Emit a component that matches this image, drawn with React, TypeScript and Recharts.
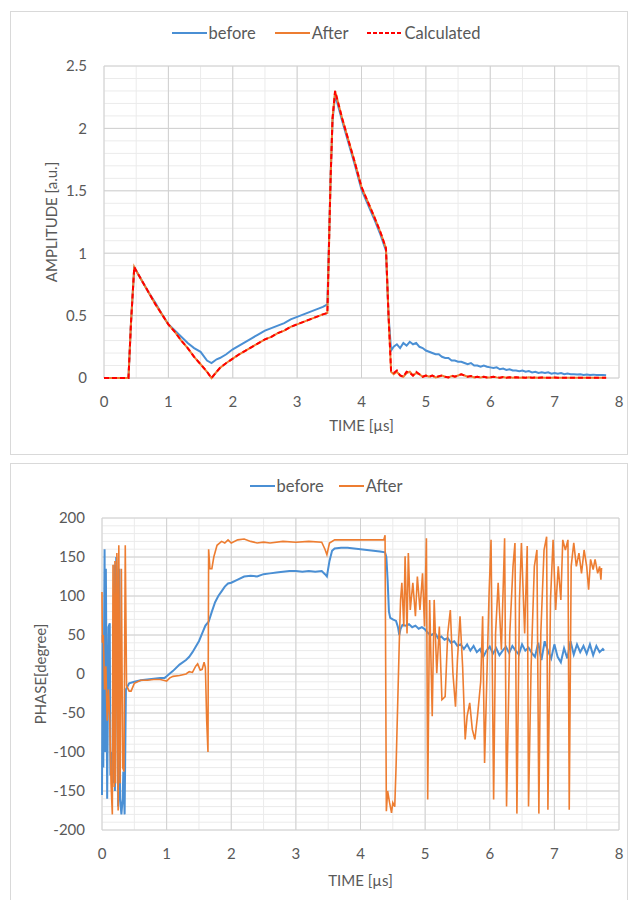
import React from "react";
import {
  LineChart,
  Line,
  XAxis,
  YAxis,
  CartesianGrid,
  Label,
} from "recharts";

const FONT = "Lato, 'Noto Sans', sans-serif";
const TEXT = "#595959";
const BLUE = "#4a8fd4";
const ORANGE = "#ed7d31";
const RED = "#ff0000";

// ---- amplitude chart ----
const ampTime = [
  0, 0.38, 0.42, 0.47, 0.5, 0.6, 0.7, 0.8, 0.9, 1.0, 1.1, 1.2, 1.3, 1.4, 1.5, 1.6, 1.67,
  1.75, 1.8, 1.9, 2.0, 2.1, 2.2, 2.3, 2.4, 2.5, 2.6, 2.7, 2.8, 2.9, 3.0, 3.1, 3.2, 3.3,
  3.4, 3.47, 3.52, 3.55, 3.59, 3.7, 3.8, 3.9, 4.0, 4.1, 4.2, 4.3, 4.38, 4.42, 4.46, 4.5,
  4.55, 4.6, 4.65, 4.7, 4.75, 4.8, 4.85, 4.9, 4.95,
  5.0, 5.05, 5.1, 5.15, 5.2, 5.25, 5.3, 5.35, 5.4, 5.45, 5.5, 5.55, 5.6, 5.65, 5.7, 5.75, 5.8, 5.85, 5.9, 5.95,
  6.0, 6.05, 6.1, 6.15, 6.2, 6.25, 6.3, 6.35, 6.4, 6.45, 6.5, 6.55, 6.6, 6.65, 6.7, 6.75, 6.8, 6.85, 6.9, 6.95,
  7.0, 7.05, 7.1, 7.15, 7.2, 7.25, 7.3, 7.35, 7.4, 7.45, 7.5, 7.55, 7.6, 7.65, 7.7, 7.75, 7.8,
];

const ampBefore = [
  0, 0, 0.45, 0.88, 0.86, 0.77, 0.68, 0.6, 0.51, 0.43, 0.38, 0.33, 0.28, 0.24, 0.21, 0.14, 0.12,
  0.15, 0.16, 0.19, 0.23, 0.26, 0.29, 0.32, 0.35, 0.38, 0.4, 0.42, 0.44, 0.47, 0.49, 0.51, 0.53, 0.55,
  0.57, 0.59, 1.6, 2.06, 2.27, 2.06, 1.88, 1.7, 1.51, 1.39, 1.27, 1.14, 1.02, 0.5, 0.22, 0.25,
  0.27, 0.24, 0.28, 0.26, 0.29, 0.27, 0.28, 0.25, 0.24,
  0.22, 0.21, 0.2, 0.19, 0.19, 0.17, 0.16, 0.16, 0.14, 0.14, 0.13, 0.13, 0.12, 0.11, 0.12, 0.1, 0.1, 0.09, 0.1, 0.09,
  0.085, 0.08, 0.085, 0.07, 0.075, 0.065, 0.07, 0.06, 0.06, 0.055, 0.06, 0.05, 0.055, 0.045, 0.05, 0.04, 0.045, 0.04, 0.045, 0.035,
  0.04, 0.035, 0.04, 0.03, 0.035, 0.03, 0.03, 0.028, 0.03, 0.025, 0.028, 0.025, 0.027, 0.024, 0.025, 0.024, 0.022,
];

const ampAfter = [
  0, 0, 0.45, 0.89, 0.86, 0.77, 0.68, 0.59, 0.51, 0.43, 0.37, 0.3, 0.24, 0.17, 0.11, 0.05, 0.0,
  0.05, 0.08, 0.12, 0.155, 0.19, 0.22, 0.25, 0.28, 0.31, 0.33, 0.36, 0.38, 0.41, 0.43, 0.45, 0.47, 0.49,
  0.51, 0.52, 1.6, 2.08, 2.3, 2.08, 1.9, 1.72, 1.53, 1.41, 1.29, 1.16, 1.04, 0.5, 0.05, 0.03,
  0.05, 0.02, 0.01, 0.04, 0.05, 0.02, 0.04, 0.03, 0.01,
  0.02, 0.01, 0.02, 0.005, 0.01, 0.02, 0.01, 0.005, 0.015, 0.01, 0.02, 0.03, 0.02, 0.01, 0.015, 0.005, 0.01, 0.005, 0.01, 0.005,
  0.005, 0.01, 0.005, 0.003, 0.008, 0.003, 0.005, 0.002, 0.006, 0.003, 0.004, 0.002, 0.005, 0.002, 0.004, 0.002, 0.004, 0.002, 0.003, 0.002,
  0.004, 0.002, 0.003, 0.002, 0.003, 0.002, 0.003, 0.002, 0.003, 0.002, 0.003, 0.002, 0.003, 0.002, 0.003, 0.002, 0.002,
];

const ampCalc = [
  0, 0, 0.45, 0.89, 0.86, 0.77, 0.68, 0.59, 0.51, 0.43, 0.37, 0.3, 0.24, 0.17, 0.11, 0.05, 0.0,
  0.05, 0.08, 0.12, 0.155, 0.19, 0.22, 0.25, 0.28, 0.31, 0.33, 0.36, 0.38, 0.41, 0.43, 0.45, 0.47, 0.49,
  0.51, 0.52, 1.6, 2.08, 2.3, 2.08, 1.9, 1.72, 1.53, 1.41, 1.29, 1.16, 1.04, 0.5, 0.05, 0.04,
  0.06, 0.02, 0.01, 0.05, 0.04, 0.02, 0.05, 0.03, 0.01,
  0.02, 0.01, 0.02, 0.005, 0.015, 0.02, 0.01, 0.005, 0.02, 0.01, 0.02, 0.03, 0.02, 0.01, 0.015, 0.005, 0.01, 0.005, 0.01, 0.005,
  0.005, 0.01, 0.005, 0.003, 0.008, 0.003, 0.005, 0.002, 0.006, 0.003, 0.004, 0.002, 0.005, 0.002, 0.004, 0.002, 0.004, 0.002, 0.003, 0.002,
  0.004, 0.002, 0.003, 0.002, 0.003, 0.002, 0.003, 0.002, 0.003, 0.002, 0.003, 0.002, 0.003, 0.002, 0.003, 0.002, 0.002,
];

const ampXTicks = [0, 1, 2, 3, 4, 5, 6, 7, 8];
const ampXMinor = [0, 0.5, 1, 1.5, 2, 2.5, 3, 3.5, 4, 4.5, 5, 5.5, 6, 6.5, 7, 7.5, 8];
const ampYTicks = [0, 0.5, 1, 1.5, 2, 2.5];
const ampYMinor = [
  0, 0.1, 0.2, 0.3, 0.4, 0.5, 0.6, 0.7, 0.8, 0.9, 1, 1.1, 1.2, 1.3, 1.4, 1.5, 1.6, 1.7,
  1.8, 1.9, 2, 2.1, 2.2, 2.3, 2.4, 2.5,
];

// ---- phase chart ----
const phaseBeforeTime = [
  0, 0.01, 0.02, 0.04, 0.05, 0.06, 0.08, 0.1, 0.12, 0.13, 0.15, 0.17, 0.19, 0.2, 0.22, 0.23,
  0.25, 0.27, 0.28, 0.3, 0.32, 0.33, 0.35, 0.37, 0.42, 0.5, 0.6, 0.7, 0.8, 0.9, 0.97, 1.0,
  1.1, 1.2, 1.3, 1.35, 1.4, 1.45, 1.5, 1.55, 1.6, 1.65, 1.7, 1.75, 1.8, 1.85, 1.9, 1.95, 2.0,
  2.1, 2.2, 2.3, 2.4, 2.5, 2.6, 2.7, 2.8, 2.9, 3.0, 3.1, 3.2, 3.3, 3.4, 3.45, 3.48, 3.52,
  3.56, 3.6, 3.7, 3.8, 3.9, 4.0, 4.1, 4.2, 4.3, 4.38, 4.4, 4.42, 4.44, 4.46, 4.5, 4.55, 4.58,
  4.6, 4.62, 4.65, 4.7, 4.75, 4.8, 4.85, 4.9, 4.95, 5.0, 5.05, 5.1, 5.15, 5.2, 5.25, 5.3,
  5.35, 5.4, 5.45, 5.5, 5.55, 5.6, 5.65, 5.7, 5.75, 5.8, 5.85, 5.9, 5.95, 6.0, 6.05, 6.1,
  6.15, 6.2, 6.25, 6.3, 6.35, 6.4, 6.45, 6.5, 6.55, 6.6, 6.65, 6.7, 6.75, 6.8, 6.85, 6.9,
  6.95, 7.0, 7.05, 7.1, 7.15, 7.2, 7.25, 7.3, 7.35, 7.4, 7.45, 7.5, 7.55, 7.6, 7.65, 7.7,
  7.75, 7.77,
];
const phaseBeforeValue = [
  -155, 50, -120, 160, -100, 135, -160, 60, 65, -130, -100, -140, 140, -150, 150, 130,
  -170, 135, -160, -180, -160, -125, -180, -20, -12, -10, -8, -7, -6, -5, -5, -3,
  4, 12, 18, 22, 28, 35, 42, 52, 62, 67, 80, 92, 100, 106, 112, 116, 117,
  121, 125, 126, 125, 128, 129, 130, 131, 132, 132, 131, 132, 131, 132, 128, 125, 145,
  158, 161, 162, 162, 161, 160, 159, 158, 157, 156, 150, 120, 80, 72, 70, 68, 60,
  50, 58, 63, 62, 64, 60, 62, 58, 60, 57, 52, 50, 53, 46, 48, 44,
  46, 40, 42, 36, 38, 32, 38, 30, 36, 28, 32, 22, 30, 35, 26, 33,
  24, 30, 35, 27, 36, 30, 25, 38, 30, 34, 27, 22, 40, 18, 42, 30,
  20, 38, 22, 15, 33, 20, 42, 25, 38, 28, 36, 26, 38, 24, 36, 28,
  32, 30,
];

const phaseAfterTime = [
  0, 0.005, 0.02, 0.04, 0.06, 0.08, 0.1, 0.12, 0.14, 0.16, 0.17, 0.19, 0.2, 0.21, 0.23, 0.25,
  0.26, 0.28, 0.3, 0.32, 0.34, 0.36, 0.38, 0.42, 0.45, 0.5, 0.6, 0.7, 0.8, 0.9, 0.95, 1.0,
  1.05, 1.1, 1.2, 1.3, 1.35, 1.4, 1.45, 1.48, 1.52, 1.55, 1.58, 1.6, 1.62, 1.64, 1.65, 1.67,
  1.7, 1.73, 1.78, 1.85, 1.9, 1.95, 2.0, 2.1, 2.2, 2.3, 2.4, 2.5, 2.6, 2.8, 3.0, 3.2, 3.4,
  3.45, 3.48, 3.52, 3.6, 4.0, 4.36, 4.38, 4.4, 4.42, 4.45, 4.48, 4.5, 4.53, 4.55, 4.6, 4.62,
  4.64, 4.67, 4.69, 4.72, 4.74, 4.77, 4.81, 4.85, 4.88, 4.92, 4.96, 4.99, 5.02, 5.04, 5.07,
  5.11, 5.14, 5.18, 5.22, 5.26, 5.31, 5.35, 5.39, 5.43, 5.47, 5.5, 5.54, 5.58, 5.62, 5.65,
  5.69, 5.73, 5.77, 5.81, 5.86, 5.89, 5.92, 5.96, 5.99, 6.02, 6.06, 6.09, 6.13, 6.18, 6.23,
  6.26, 6.31, 6.36, 6.39, 6.42, 6.46, 6.49, 6.54, 6.58, 6.6, 6.64, 6.69, 6.73, 6.76, 6.79,
  6.84, 6.88, 6.9, 6.94, 6.98, 7.02, 7.06, 7.1, 7.13, 7.17, 7.21, 7.23, 7.26, 7.3, 7.34,
  7.38, 7.42, 7.46, 7.5, 7.53, 7.56, 7.6, 7.63, 7.67, 7.7, 7.72, 7.73,
];
const phaseAfterValue = [
  105, 40, 50, -20, 10, -60, -20, -60, -140, -180, 140, -145, 145, -140, 155, -175,
  165, -140, 135, -120, -125, 165, -15, -22, -22, -12, -8, -8, -7, -7, -8, -9,
  -5, -3, -2, 0, 3, 2, 10, 13, 5, 6, 15, 8, -60, -100, 160, 135,
  135, 150, 165, 170, 168, 172, 168, 172, 173, 170, 168, 169, 168, 170, 169, 170, 169,
  160, 153, 168, 172, 172, 172, 178, -176, -150, -165, -178, -165, -170, -120, 40, 95,
  117, 61, 151, 52, 155, 82, 117, 74, 125, 82, 129, 61, 174, -161, 95,
  -54, 95, 1, 61, -33, -29, 52, 82, 1, -42, 18, 74, 10, -84, -54,
  -37, -71, -84, -54, -10, 74, -114, 10, 104, 172, -161, 52, 117, 31, 174,
  -170, 52, 138, 168, -179, 95, 168, 52, 164, -170, 10, 138, 159, -179, 52,
  159, 176, -174, 95, 172, 82, 138, 95, 172, 159, 172, -174, 138, 168, 138,
  155, 129, 159, 138, 108, 147, 134, 147, 129, 138, 121, 136,
];

const phaseXTicks = [0, 1, 2, 3, 4, 5, 6, 7, 8];
const phaseXMinor = [0, 0.5, 1, 1.5, 2, 2.5, 3, 3.5, 4, 4.5, 5, 5.5, 6, 6.5, 7, 7.5, 8];
const phaseYTicks = [-200, -150, -100, -50, 0, 50, 100, 150, 200];
const phaseYMinor = [
  -200, -190, -180, -170, -160, -150, -140, -130, -120, -110, -100, -90, -80, -70, -60,
  -50, -40, -30, -20, -10, 0, 10, 20, 30, 40, 50, 60, 70, 80, 90, 100, 110, 120, 130, 140,
  150, 160, 170, 180, 190, 200,
];

const ampData = ampTime.map((t, i) => ({
  t,
  before: ampBefore[i],
  after: ampAfter[i],
  calc: ampCalc[i],
}));
const phaseBefore = phaseBeforeTime.map((t, i) => ({ t, v: phaseBeforeValue[i] }));
const phaseAfter = phaseAfterTime.map((t, i) => ({ t, v: phaseAfterValue[i] }));

const ampLegend = [
  { name: "before", color: BLUE, dash: "" },
  { name: "After", color: ORANGE, dash: "" },
  { name: "Calculated", color: RED, dash: "4 2" },
];
const phaseLegend = [
  { name: "before", color: BLUE, dash: "" },
  { name: "After", color: ORANGE, dash: "" },
];

const tickStyle = { fill: TEXT, fontSize: 15, fontFamily: FONT };

// run a value through whatever scale object the axis hands us
function scaleOf(axis: any): ((v: number) => number) | null {
  if (!axis) return null;
  const sc = axis.scale;
  if (typeof sc === "function") return (v) => sc(v);
  if (sc && typeof sc.map === "function") return (v) => sc.map(v);
  if (sc && typeof sc.apply === "function") return (v) => sc.apply(v);
  return null;
}

// minor grid lines placed through the chart's own axis scales
const minorX = (ticks: number[]) => (p: any) => {
  try {
    const f = scaleOf(p && p.xAxis);
    return f ? ticks.map(f).filter((v) => Number.isFinite(v)) : [];
  } catch (e) {
    return [];
  }
};
const minorY = (ticks: number[]) => (p: any) => {
  try {
    const f = scaleOf(p && p.yAxis);
    return f ? ticks.map(f).filter((v) => Number.isFinite(v)) : [];
  } catch (e) {
    return [];
  }
};

function XTitle(props: any) {
  const { viewBox, text, dy } = props;
  return (
    <text
      x={viewBox.x + viewBox.width / 2}
      y={viewBox.y + dy}
      textAnchor="middle"
      dominantBaseline="central"
      fill={TEXT}
      fontSize={15}
      fontFamily={FONT}
    >
      {text}
    </text>
  );
}

function YTitle(props: any) {
  const { viewBox, text, cx } = props;
  const x = viewBox.x + cx;
  const y = viewBox.y + viewBox.height / 2;
  return (
    <text
      x={x}
      y={y}
      transform={`rotate(-90 ${x} ${y})`}
      textAnchor="middle"
      dominantBaseline="central"
      fill={TEXT}
      fontSize={15}
      fontFamily={FONT}
    >
      {text}
    </text>
  );
}

function LegendRow({ items, top, lineLen, gap }: any) {
  return (
    <div
      style={{
        position: "absolute",
        top,
        left: 12,
        width: 628,
        display: "flex",
        justifyContent: "center",
        alignItems: "center",
        fontFamily: FONT,
        fontSize: 16.5,
        color: TEXT,
        gap,
      }}
    >
      {items.map((s: any) => (
        <div key={s.name} style={{ display: "flex", alignItems: "center" }}>
          <svg width={lineLen} height={4} style={{ marginRight: 2 }}>
            <line
              x1={0}
              y1={2}
              x2={lineLen}
              y2={2}
              stroke={s.color}
              strokeWidth={2}
              strokeDasharray={s.dash || undefined}
            />
          </svg>
          <span>{s.name}</span>
        </div>
      ))}
    </div>
  );
}

export default function App() {
  return (
    <div
      style={{
        position: "absolute",
        left: 0,
        top: 0,
        width: 628,
        height: 900,
        background: "#fff",
        overflow: "hidden",
      }}
    >
      <div
        style={{
          position: "absolute",
          left: 10,
          top: 11,
          width: 616,
          height: 442,
          border: "1px solid #d9d9d9",
        }}
      />
      <div
        style={{
          position: "absolute",
          left: 10,
          top: 463,
          width: 616,
          height: 450,
          border: "1px solid #d9d9d9",
        }}
      />

      <LegendRow items={ampLegend} top={23} lineLen={35} gap={19} />
      <div style={{ position: "absolute", left: 0, top: 0 }}>
        <LineChart
          width={628}
          height={455}
          data={ampData}
          margin={{ top: 66, right: 9, bottom: 0, left: 0 }}
        >
          <CartesianGrid
            stroke="#ebebeb"
            strokeWidth={1}
            verticalCoordinatesGenerator={minorX(ampXMinor)}
            horizontalCoordinatesGenerator={minorY(ampYMinor)}
          />
          <CartesianGrid stroke="#d0d0d0" strokeWidth={1} />
          <XAxis
            type="number"
            dataKey="t"
            domain={[0, 8]}
            ticks={ampXTicks}
            height={77}
            axisLine={false}
            tickLine={false}
            tickSize={0}
            tickMargin={18}
            tick={tickStyle}
          >
            <Label content={(p: any) => <XTitle {...p} text="TIME [µs]" dy={47} />} />
          </XAxis>
          <YAxis
            type="number"
            domain={[0, 2.5]}
            ticks={ampYTicks}
            width={104}
            axisLine={false}
            tickLine={false}
            tickSize={0}
            tickMargin={17}
            tick={tickStyle}
          >
            <Label content={(p: any) => <YTitle {...p} text="AMPLITUDE [a.u.]" cx={51} />} />
          </YAxis>
          <Line
            type="linear"
            dataKey="before"
            stroke={BLUE}
            strokeWidth={2}
            dot={false}
            isAnimationActive={false}
          />
          <Line
            type="linear"
            dataKey="after"
            stroke={ORANGE}
            strokeWidth={2}
            dot={false}
            isAnimationActive={false}
          />
          <Line
            type="linear"
            dataKey="calc"
            stroke={RED}
            strokeWidth={2}
            strokeDasharray="5 3"
            dot={false}
            isAnimationActive={false}
          />
        </LineChart>
      </div>

      <LegendRow items={phaseLegend} top={476} lineLen={25} gap={15} />
      <div style={{ position: "absolute", left: 0, top: 455 }}>
        <LineChart
          width={628}
          height={445}
          margin={{ top: 63, right: 9, bottom: 0, left: 0 }}
        >
          <CartesianGrid
            stroke="#ebebeb"
            strokeWidth={1}
            verticalCoordinatesGenerator={minorX(phaseXMinor)}
            horizontalCoordinatesGenerator={minorY(phaseYMinor)}
          />
          <CartesianGrid stroke="#d0d0d0" strokeWidth={1} />
          <XAxis
            type="number"
            dataKey="t"
            domain={[0, 8]}
            ticks={phaseXTicks}
            height={70}
            axisLine={false}
            tickLine={false}
            tickSize={0}
            tickMargin={18}
            tick={tickStyle}
          >
            <Label content={(p: any) => <XTitle {...p} text="TIME [µs]" dy={50} />} />
          </XAxis>
          <YAxis
            type="number"
            domain={[-200, 200]}
            ticks={phaseYTicks}
            width={102}
            axisLine={false}
            tickLine={false}
            tickSize={0}
            tickMargin={17}
            tick={tickStyle}
          >
            <Label content={(p: any) => <YTitle {...p} text="PHASE[degree]" cx={40} />} />
          </YAxis>
          <Line
            data={phaseBefore}
            type="linear"
            dataKey="v"
            name="before"
            stroke={BLUE}
            strokeWidth={2}
            dot={false}
            isAnimationActive={false}
          />
          <Line
            data={phaseAfter}
            type="linear"
            dataKey="v"
            name="After"
            stroke={ORANGE}
            strokeWidth={1.6}
            dot={false}
            isAnimationActive={false}
          />
        </LineChart>
      </div>
    </div>
  );
}
